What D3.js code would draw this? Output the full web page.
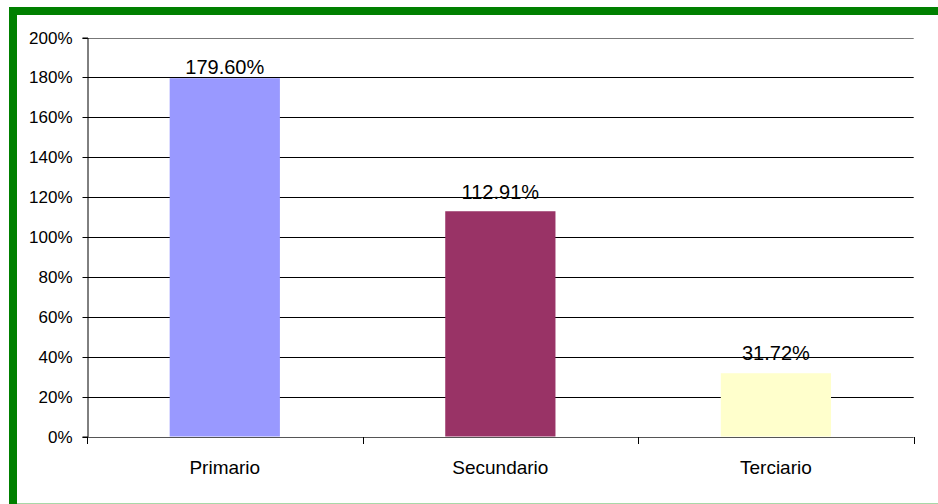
<!DOCTYPE html>
<html><head><meta charset="utf-8">
<script src="https://cdn.jsdelivr.net/npm/d3@7"></script>
<style>body{margin:0;background:#fff}svg{display:block}text{font-family:Arial,"Liberation Sans",sans-serif}</style>
</head><body>
<svg id="c" width="938" height="504"></svg>
<script>
const categories = ["Primario", "Secundario", "Terciario"];
const values = [179.60, 112.91, 31.72];
const valueLabels = ["179.60%", "112.91%", "31.72%"];
const colors = ["#9999FF", "#993366", "#FFFFCC"];
const yTicks = [0, 20, 40, 60, 80, 100, 120, 140, 160, 180, 200];

(function(){
const svg = d3.select("#c");
// frame
svg.append("rect").attr("x",9).attr("y",7).attr("width",929).attr("height",8).attr("fill","#008000");
svg.append("rect").attr("x",9).attr("y",7).attr("width",8).attr("height",497).attr("fill","#008000");
svg.append("rect").attr("x",17).attr("y",503).attr("width",921).attr("height",1).attr("fill","#A8D8A8");

const pL = 87, pR = 913.7, pT = 37.5, pB = 436.5;
const x = d3.scaleBand().domain(categories).range([pL, pR]).paddingInner(0.6).paddingOuter(0.3);
const xb = d3.scaleBand().domain(categories).range([pL, pR]);
const y = d3.scaleLinear().domain([0, 200]).range([pB, pT]);

// gridlines
svg.append("g").selectAll("line").data(yTicks.filter(d=>d>0)).join("line")
  .attr("x1", pL).attr("x2", pR)
  .attr("y1", d=>Math.round(y(d))+0.5).attr("y2", d=>Math.round(y(d))+0.5)
  .attr("stroke", d=>d===200?"#777":"#000").attr("stroke-width",1);

// y axis
const ya = d3.axisLeft(y).tickValues(yTicks).tickFormat(d=>d+"%").tickSize(5).tickPadding(10);
const gy = svg.append("g").attr("transform",`translate(${pL+0.5},0)`).call(ya);
gy.select(".domain").attr("stroke","#000");
gy.selectAll(".tick line").attr("stroke","#000");
gy.selectAll(".tick text").attr("font-size","17px").attr("fill","#000");
gy.selectAll(".tick").attr("transform", d=>`translate(0,${Math.round(y(d))+0.5})`);

// bars
svg.append("g").selectAll("rect").data(values).join("rect")
  .attr("x",(d,i)=>x(categories[i])).attr("width",x.bandwidth())
  .attr("y",d=>y(d)).attr("height",d=>pB-y(d))
  .attr("fill",(d,i)=>colors[i]);

// x axis
svg.append("line").attr("x1",pL).attr("x2",pR).attr("y1",Math.round(pB)+0.5).attr("y2",Math.round(pB)+0.5).attr("stroke","#555");
const xt = [pL, ...categories.map(c=>xb(c)+xb.bandwidth())];
svg.append("g").selectAll("line").data(xt).join("line")
  .attr("x1",d=>Math.round(d)+0.5).attr("x2",d=>Math.round(d)+0.5)
  .attr("y1",Math.round(pB)).attr("y2",Math.round(pB)+7).attr("stroke","#000");
svg.append("g").selectAll("text").data(categories).join("text")
  .attr("x",d=>xb(d)+xb.bandwidth()/2).attr("y",474)
  .attr("text-anchor","middle").attr("font-size","19px").attr("fill","#000").text(d=>d);

// value labels (first label sits tight against its bar in the original)
const labelGap = [4, 12, 13];
svg.append("g").selectAll("text").data(values).join("text")
  .attr("x",(d,i)=>x(categories[i])+x.bandwidth()/2).attr("y",(d,i)=>y(d)-labelGap[i])
  .attr("text-anchor","middle").attr("font-size","20px").attr("fill","#000").text((d,i)=>valueLabels[i]);
})();
</script>
</body></html>
